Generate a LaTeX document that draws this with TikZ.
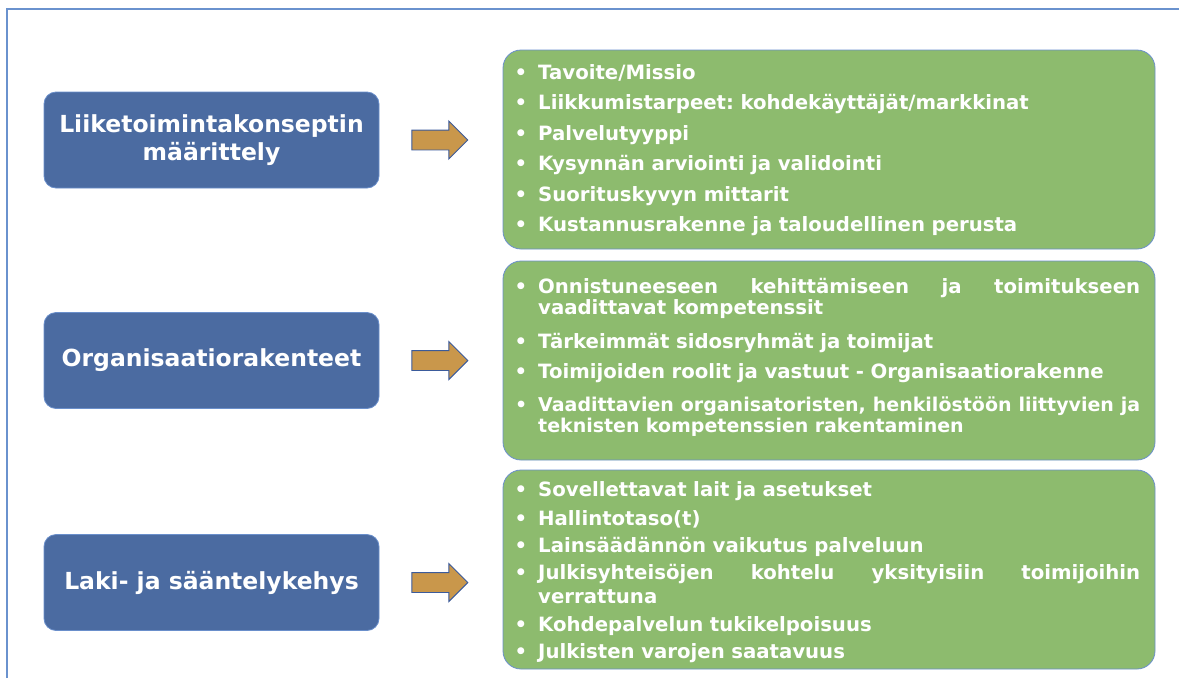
\documentclass[tikz,border=0pt]{standalone}
\usepackage{fontspec}
\setmainfont{DejaVu Sans}
\usetikzlibrary{positioning,shapes.arrows}

\definecolor{framecol}{HTML}{6A92CE}
\definecolor{boxblue}{HTML}{4B6BA1}
\definecolor{boxblueline}{HTML}{6A8FCB}
\definecolor{boxgreen}{HTML}{8DBB6E}
\definecolor{arrowfill}{HTML}{C9974B}
\definecolor{arrowline}{HTML}{3B5B9B}

\newcommand{\itembullet}{\llap{\textbullet\hspace{11pt}}}
\frenchspacing

\begin{document}
\begin{tikzpicture}[x=1pt, y=-1pt,
    title box/.style={rectangle, rounded corners=12pt, fill=boxblue, draw=boxblueline, line width=0.8pt,
        minimum width=335pt, minimum height=96pt, text=white, align=center,
        font=\bfseries\fontsize{23.5}{28}\selectfont},
    list box/.style={rectangle, rounded corners=18pt, fill=boxgreen, draw=boxblueline, line width=0.8pt,
        minimum width=652pt, minimum height=199pt},
    block arrow/.style={single arrow, fill=arrowfill, draw=arrowline, line width=0.9pt,
        minimum height=56pt, inner xsep=0pt, inner ysep=9.5pt,
        single arrow head extend=9pt, single arrow head indent=0pt},
    list item/.style={anchor=base west, inner sep=0pt, text=white, text width=602pt, align=left,
        execute at begin node=\itembullet},
    item font/.style={font=\bfseries\fontsize{19.7}{#1}\selectfont}]

  \useasboundingbox (0,0) rectangle (1179,678);
  \draw[framecol, line width=1.5pt] (7,678) |- (1179,9);

  % left column
  \node[title box] (b1) at (211.5,140) {Liiketoimintakonseptin\\määrittely};
  \node[title box] (b2) at (211.5,360.5) {Organisaatiorakenteet};
  \node[title box] (b3) at (211.5,582.5) {Laki- ja sääntelykehys};

  % arrows
  \node[block arrow, right=32pt of b1] (a1) {};
  \node[block arrow, right=32pt of b2] (a2) {};
  \node[block arrow, right=32pt of b3] (a3) {};

  % right column
  \node[list box] (g1) at (829,149.5) {};
  \node[list box] (g2) at (829,360.5) {};
  \node[list box] (g3) at (829,569.5) {};

  \begin{scope}[every node/.append style={list item, item font=23pt}]
    \node (g1i1) at (538,79) {Tavoite/Missio};
    \node (g1i2) at (538,109) {Liikkumistarpeet: kohdekäyttäjät/markkinat};
    \node (g1i3) at (538,140) {Palvelutyyppi};
    \node (g1i4) at (538,170) {Kysynnän arviointi ja validointi};
    \node (g1i5) at (538,201) {Suorituskyvyn mittarit};
    \node (g1i6) at (538,231) {Kustannusrakenne ja taloudellinen perusta};
  \end{scope}

  \begin{scope}[every node/.append style={list item, item font=21pt}]
    \node (g2i1) at (538,293) {Onnistuneeseen\hfill kehittämiseen\hfill ja\hfill toimitukseen\\vaadittavat kompetenssit};
    \node (g2i2) at (538,348) {Tärkeimmät sidosryhmät ja toimijat};
    \node (g2i3) at (538,378) {Toimijoiden roolit ja vastuut - Organisaatiorakenne};
    \node[font=\bfseries\fontsize{19}{21}\selectfont] (g2i4) at (538,411)
      {Vaadittavien \hfill organisatoristen, \hfill henkilöstöön \hfill liittyvien \hfill ja\\teknisten kompetenssien rakentaminen};
  \end{scope}

  \begin{scope}[every node/.append style={list item, item font=24pt}]
    \node (g3i1) at (538,496) {Sovellettavat lait ja asetukset};
    \node (g3i2) at (538,525) {Hallintotaso(t)};
    \node (g3i3) at (538,552) {Lainsäädännön vaikutus palveluun};
    \node (g3i4) at (538,579) {Julkisyhteisöjen\hfill kohtelu\hfill yksityisiin\hfill toimijoihin\\verrattuna};
    \node (g3i5) at (538,631) {Kohdepalvelun tukikelpoisuus};
    \node (g3i6) at (538,658) {Julkisten varojen saatavuus};
  \end{scope}

\end{tikzpicture}
\end{document}
